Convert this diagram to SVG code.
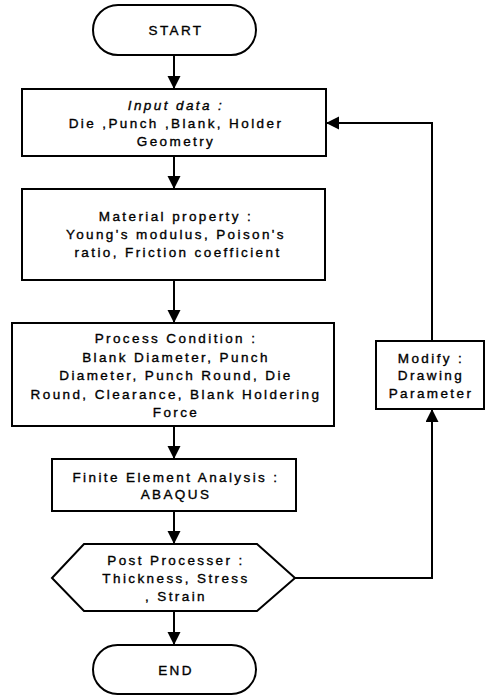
<svg xmlns="http://www.w3.org/2000/svg" width="485" height="696" viewBox="0 0 485 696">
<style>
.box{fill:#fff;stroke:#000;stroke-width:2}
.t{font-family:"Liberation Sans",Arial,sans-serif;font-size:13.5px;letter-spacing:2.4px;fill:#000;stroke:#000;stroke-width:0.35;text-anchor:middle}
.conn{fill:none;stroke:#000;stroke-width:2}
</style>
<defs>
<marker id="ah" markerUnits="userSpaceOnUse" markerWidth="14" markerHeight="14" refX="13" refY="6.5" orient="auto">
<path d="M0,0 L13,6.5 L0,13 z" fill="#000"/>
</marker>
</defs>
<rect width="485" height="696" fill="#fff"/>
<g id="connectors">
<path class="conn" d="M174,55 L174,89" marker-end="url(#ah)"/>
<path class="conn" d="M174,156 L174,189" marker-end="url(#ah)"/>
<path class="conn" d="M174,280 L174,323" marker-end="url(#ah)"/>
<path class="conn" d="M174,426 L174,459" marker-end="url(#ah)"/>
<path class="conn" d="M174,511 L174,544" marker-end="url(#ah)"/>
<path class="conn" d="M174,611 L174,645" marker-end="url(#ah)"/>
<path class="conn" d="M295,578 L432,578 L432,409" marker-end="url(#ah)"/>
<path class="conn" d="M432,341 L432,123 L326,123" marker-end="url(#ah)"/>
</g>
<g id="start">
<rect class="box" x="93" y="5" width="163" height="50" rx="25" ry="25"/>
<text class="t" x="176" y="35">START</text>
</g>
<g id="input">
<rect class="box" x="22" y="89" width="304" height="67"/>
<text class="t" x="176" y="110" font-style="italic">Input data :</text>
<text class="t" x="176" y="128">Die ,Punch ,Blank, Holder</text>
<text class="t" x="176" y="146">Geometry</text>
</g>
<g id="material">
<rect class="box" x="22" y="189" width="303" height="91"/>
<text class="t" x="176" y="221">Material property :</text>
<text class="t" x="176" y="239">Young's modulus, Poison's</text>
<text class="t" x="178" y="257">ratio, Friction coefficient</text>
</g>
<g id="process">
<rect class="box" x="12" y="323" width="322" height="103"/>
<text class="t" x="176" y="343">Process Condition :</text>
<text class="t" x="176" y="362">Blank Diameter, Punch</text>
<text class="t" x="176" y="380">Diameter, Punch Round, Die</text>
<text class="t" x="176" y="399">Round, Clearance, Blank Holdering</text>
<text class="t" x="176" y="417">Force</text>
</g>
<g id="fea">
<rect class="box" x="52" y="459" width="244" height="52"/>
<text class="t" x="176" y="482">Finite Element Analysis :</text>
<text class="t" x="176" y="499">ABAQUS</text>
</g>
<g id="post">
<polygon class="box" points="52,578 84,544 257,544 295,578 257,611 84,611"/>
<text class="t" x="176" y="565">Post Processer :</text>
<text class="t" x="176" y="583">Thickness, Stress</text>
<text class="t" x="176" y="601">, Strain</text>
</g>
<g id="end">
<rect class="box" x="93" y="645" width="163" height="49" rx="24.5" ry="24.5"/>
<text class="t" x="176" y="675">END</text>
</g>
<g id="modify">
<rect class="box" x="376" y="341" width="108" height="68"/>
<text class="t" x="431" y="363">Modify :</text>
<text class="t" x="431" y="380">Drawing</text>
<text class="t" x="431" y="398">Parameter</text>
</g>
</svg>
